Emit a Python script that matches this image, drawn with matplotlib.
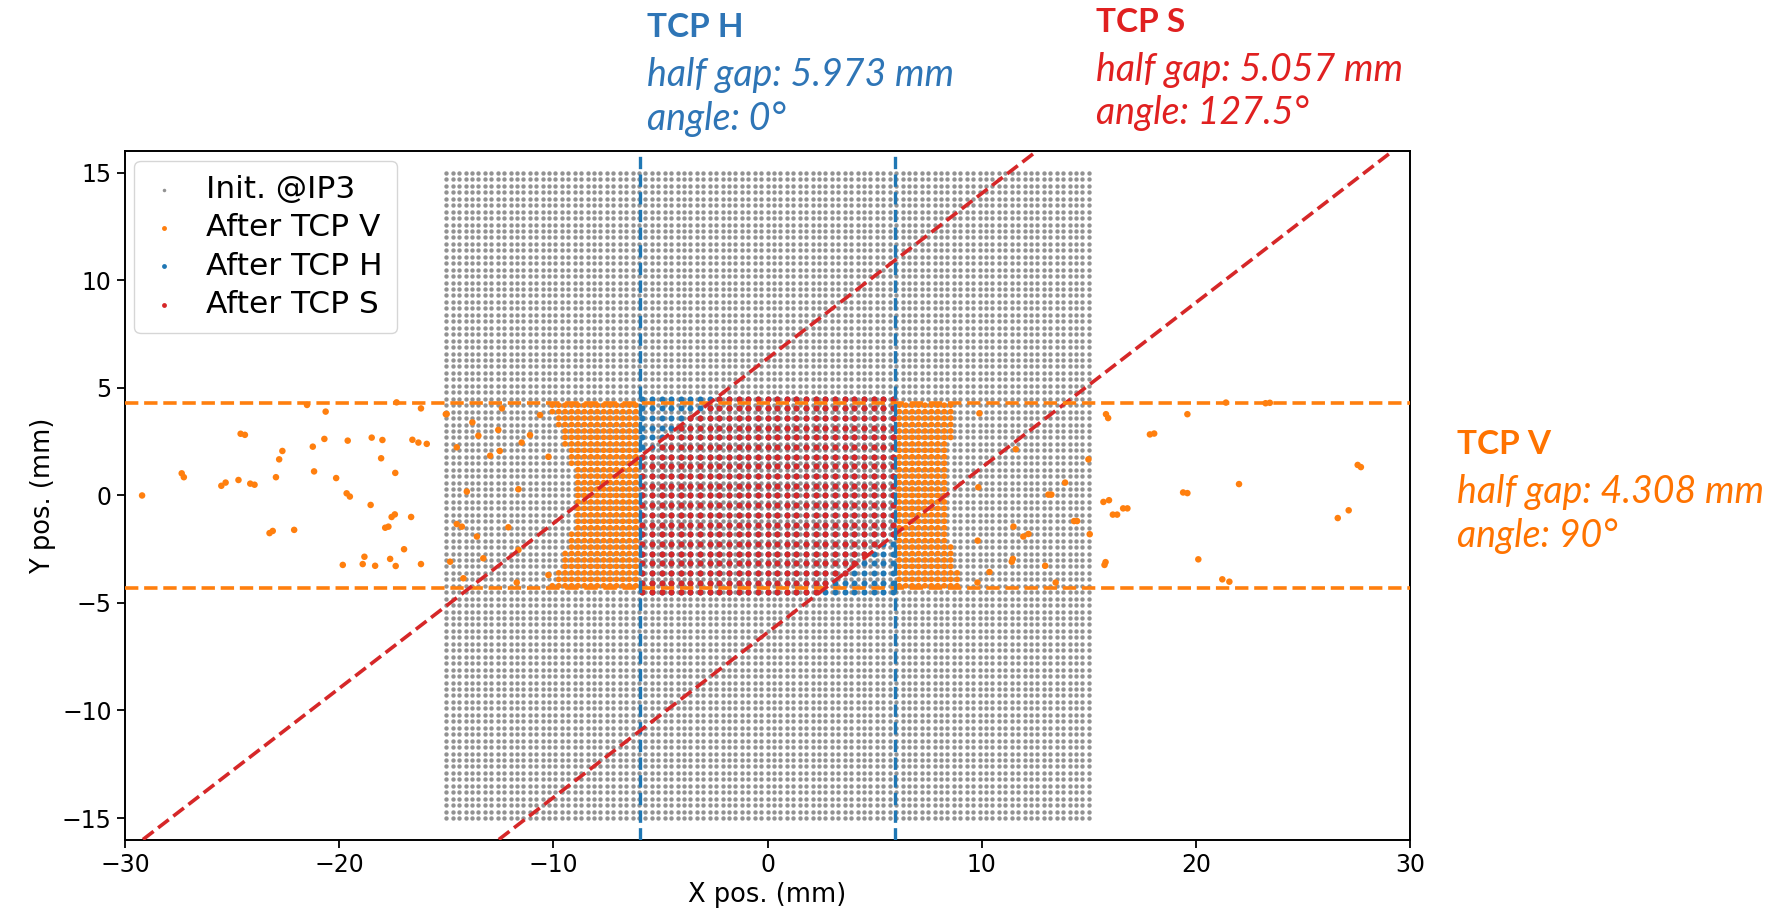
import numpy as np
import matplotlib
matplotlib.use("Agg")
import matplotlib.pyplot as plt

# collimator settings (half gap in mm, angle in deg)
tcp_v_gap, tcp_v_angle = 4.308, 90
tcp_h_gap, tcp_h_angle = 5.973, 0
tcp_s_gap, tcp_s_angle = 5.057, 127.5

# initial particle grid at IP3 (regular grid, -15..15 mm, 101 x 101)
init_axis = np.linspace(-15, 15, 101)

# dense core of tracked particles after TCP V: rows and band edges (mm)
band_rows_y = [-4.2, -3.9, -3.6, -3.3, -3.0, -2.7, -2.4, -2.1, -1.8, -1.5, -1.2, -0.9, -0.6, -0.3, 0.0,
               0.3, 0.6, 0.9, 1.2, 1.5, 1.8, 2.1, 2.4, 2.7, 3.0, 3.3, 3.6, 3.9, 4.2]
band_left = [-10.1, -10.0, -9.8, -9.7, -9.6, -9.5, -9.4, -9.3, -9.2, -9.1, -9.1, -9.0, -9.0, -9.0, -9.0,
             -9.0, -9.0, -9.1, -9.1, -9.2, -9.3, -9.4, -9.5, -9.6, -9.7, -9.8, -9.9, -10.1, -10.3]
band_right = [9.1, 9.0, 8.9, 8.8, 8.7, 8.6, 8.6, 8.5, 8.5, 8.4, 8.4, 8.3, 8.3, 8.3, 8.3,
              8.3, 8.3, 8.4, 8.4, 8.4, 8.5, 8.5, 8.5, 8.6, 8.6, 8.6, 8.7, 8.7, 8.8]
band_cols_x = np.arange(-10.35, 9.2, 0.3)

# central core (inside TCP H), coarser tracked grid
core_cols_x = np.arange(-5.85, 5.86, 0.45)
core_rows_y = np.arange(-4.5, 4.51, 0.45)

# scattered particles after TCP V
sparse_x = [-29.2, -27.35, -27.25, -24.6, -24.4, -25.5, -25.3, -24.7, -24.15, -23.95, -22.65, -22.8,
            -22.95, -23.25, -23.1, -22.1, -21.5, -20.63, -21.23, -20.69, -21.17, -20.14, -19.6, -19.65,
            -19.5, -18.48, -17.98, -18.04, -17.38, -17.32, -16.18, -16.58, -16.3, -15.91, -18.53, -17.55,
            -17.4, -17.85, -17.7, -16.64, -16.97, -18.82, -19.83, -18.9, -18.32, -17.62, -17.36, -16.18,
            -15.02,
            -14.98, -13.78, -13.5, -14.51, -12.57, -12.4, -12.95, -12.5, -11.48, -11.09, -10.62, -10.23,
            -14.04, -11.63, -14.51, -14.27, -12.1, -13.57, -14.82, -13.27, -11.63, -14.2, -11.71, -10.23,
            9.89, 11.59, 9.84, 13.89, 13.11, 13.25, 14.98, 11.48, 11.94, 12.18, 14.31, 14.45, 9.81, 11.4,
            11.45, 12.96, 10.36, 13.45, 9.8, 15.04,
            15.8, 15.9, 19.6, 17.85, 18.05, 21.4, 23.25, 23.45, 27.55, 27.7, 22.01, 19.4, 19.6, 15.68,
            15.94, 16.6, 16.8, 16.12, 16.32, 15.73, 15.78, 20.11, 21.23, 21.56, 27.13, 26.62]
sparse_y = [0.0, 1.03, 0.85, 2.87, 2.82, 0.45, 0.6, 0.72, 0.55, 0.5, 2.07, 1.68,
            0.85, -1.75, -1.65, -1.6, 4.21, 3.9, 2.27, 2.63, 1.12, 0.81, 2.55, 0.1,
            -0.05, 2.69, 2.58, 1.73, 1.05, 4.33, 4.05, 2.59, 2.46, 2.40, -0.44, -1.0,
            -0.88, -1.5, -1.45, -1.0, -2.5, -2.85, -3.23, -3.19, -3.27, -2.95, -3.28, -3.19,
            3.78,
            3.79, 3.4, 2.78, 2.24, 3.05, 4.05, 1.85, 2.07, 2.46, 2.81, 3.74, 1.8,
            0.18, 0.29, -1.33, -1.45, -1.48, -1.91, -3.08, -2.92, -2.53, -3.85, -4.05, -3.7,
            3.82, 2.15, 0.38, 0.6, 0.04, 0.04, 1.68, -1.45, -1.91, -1.79, -1.19, -1.19, -2.1, -3.08,
            -2.95, -3.27, -3.56, -4.05, -4.05, -1.8,
            3.78, 3.6, 3.78, 2.84, 2.88, 4.32, 4.29, 4.31, 1.42, 1.32, 0.53, 0.14, 0.11, -0.3,
            -0.22, -0.6, -0.6, -0.89, -0.89, -3.23, -3.1, -2.97, -3.9, -4.01, -0.69, -1.05]

c_grey = "#929292"
c_orange = "#ff7f0e"
c_blue = "#1f77b4"
c_red = "#d62728"

# build point sets
gx, gy = np.meshgrid(init_axis, init_axis)

bx, by = [], []
for y, lo, hi in zip(band_rows_y, band_left, band_right):
    for x in band_cols_x:
        if (lo <= x <= -6.0) or (6.0 <= x <= hi):
            bx.append(x)
            by.append(y)
orange_x = np.concatenate([bx, sparse_x])
orange_y = np.concatenate([by, sparse_y])
orange_s = np.concatenate([np.full(len(bx), 17), np.full(len(sparse_x), 22)])

cx, cy = np.meshgrid(core_cols_x, core_rows_y)
cx, cy = cx.ravel(), cy.ravel()
th = np.deg2rad(tcp_s_angle)
dist = cx * np.cos(th) + cy * np.sin(th)
in_s = np.abs(dist) < tcp_s_gap

fig = plt.figure(figsize=(17.9, 9.15), dpi=100)
ax = fig.add_axes([0.0698, 0.0825, 0.718, 0.752])

ax.scatter(gx.ravel(), gy.ravel(), s=10, color=c_grey, lw=0, label="Init. @IP3", zorder=1)
ax.scatter(orange_x, orange_y, s=orange_s, color=c_orange, lw=0, label="After TCP V", zorder=2)
ax.scatter(cx, cy, s=19, color=c_blue, lw=0, label="After TCP H", zorder=3)
ax.scatter(cx[in_s], cy[in_s], s=19, color=c_red, lw=0, label="After TCP S", zorder=4)

# collimator jaws
for sgn in (-1, 1):
    ax.axhline(sgn * tcp_v_gap, color=c_orange, ls="--", lw=2.6, zorder=5)
    ax.axvline(sgn * tcp_h_gap, color=c_blue, ls="--", lw=2.4, zorder=5)
    p0 = (sgn * tcp_s_gap * np.cos(th), sgn * tcp_s_gap * np.sin(th))
    ax.axline(p0, slope=np.tan(th - np.pi / 2), color=c_red, ls="--", lw=2.6, zorder=5)

ax.set_xlim(-30, 30)
ax.set_ylim(-16, 16)
ax.set_xticks([-30, -20, -10, 0, 10, 20, 30])
ax.set_yticks([-15, -10, -5, 0, 5, 10, 15])
ax.tick_params(labelsize=17, length=6, width=1.3)
for s in ax.spines.values():
    s.set_linewidth(1.4)
ax.set_xlabel("X pos. (mm)", fontsize=18.5)
ax.set_ylabel("Y pos. (mm)", fontsize=18.5)

leg = ax.legend(loc="upper left", fontsize=22.5, labelspacing=0.3, borderpad=0.45,
                handlelength=1.0, handletextpad=0.85, borderaxespad=0.3, markerscale=0.8)
leg.set_zorder(10)

# annotations
fam = ["Lato", "DejaVu Sans"]
def label(px, ys, title, gap, ang, col):
    fig.text(px / 1790, 1 - ys[0] / 915, title, color=col, fontsize=24, fontweight="bold", family=fam)
    fig.text(px / 1790, 1 - ys[1] / 915, f"half gap: {gap} mm", color=col, fontsize=27, style="italic", family=fam)
    fig.text(px / 1790, 1 - ys[2] / 915, f"angle: {ang}°", color=col, fontsize=27, style="italic", family=fam)

label(647, (37, 86, 130), "TCP H", tcp_h_gap, tcp_h_angle, "#2e75b6")
label(1096, (32, 81, 124), "TCP S", tcp_s_gap, tcp_s_angle, "#e02020")
label(1457, (454, 503, 547), "TCP V", tcp_v_gap, tcp_v_angle, "#ff7300")

fig.savefig("out.png", dpi=100)
